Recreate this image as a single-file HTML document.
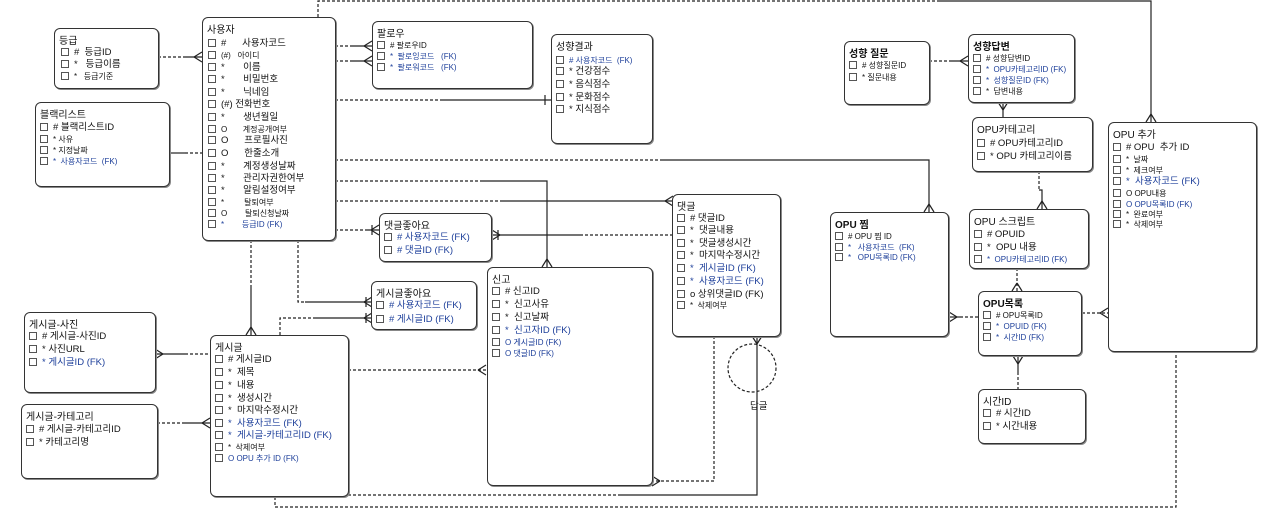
<!DOCTYPE html>
<html><head><meta charset="utf-8">
<style>
html,body{margin:0;padding:0;background:#fff;}
body{width:1280px;height:527px;position:relative;overflow:hidden;font-family:"Liberation Sans","Noto Sans CJK KR",sans-serif;color:#111;}
.b{position:absolute;border:1.3px solid #333;border-radius:6px;background:#fff;box-sizing:border-box;box-shadow:1px 1px 0 #888;}
.t{position:absolute;left:4px;top:3px;font-size:10px;white-space:nowrap;}
.r{position:absolute;font-size:9.5px;white-space:nowrap;line-height:11px;}
.r i{display:inline-block;width:6px;height:6px;border:1px solid #555;margin-right:5px;vertical-align:-1px;}
.f{color:#1d3f9a;}
.s{font-size:8px;}
svg{position:absolute;left:0;top:0;}
</style></head><body>
<svg width="1280" height="527" viewBox="0 0 1280 527" fill="none" stroke="#222" stroke-width="1.2">
<g stroke-dasharray="3,2">
<path d="M158,57H185"/>
<path d="M185,153H202"/>
<path d="M335,46H352M335,61H352"/>
<path d="M335,100H440"/>
<path d="M335,160H660"/>
<path d="M335,181H483"/>
<path d="M335,201H503"/>
<path d="M335,230H365"/>
<path d="M580,235H673"/>
<path d="M318,17V1H940"/>
<path d="M251,240V285"/>
<path d="M298,240V302H305"/>
<path d="M280,335V318H315"/>
<path d="M185,354H210"/>
<path d="M157,423H185"/>
<path d="M348,370H486"/>
<path d="M714,336V481H652"/>
<path d="M275,497V507H1176V352"/>
<path d="M348,495H620"/>
<path d="M929,61H950"/>
<path d="M1039,171V190"/>
<path d="M1017,268V291"/>
<path d="M960,317H978"/>
<path d="M1082,313H1108"/>
<path d="M1018,372V389"/>
<circle cx="752" cy="368" r="24"/>
</g>
<path d="M185,57H202"/>
<path d="M170,153H185"/>
<path d="M352,46H372M352,61H372"/>
<path d="M440,100H551M545,95V105"/>
<path d="M660,160H929V212"/>
<path d="M483,181H547V267"/>
<path d="M503,201H673"/>
<path d="M365,230H379M372,225V235"/>
<path d="M492,235H580M498,230V240"/>
<path d="M940,1H1151V122"/>
<path d="M251,285V335"/>
<path d="M305,302H372M366,297V307"/>
<path d="M315,318H372M366,313V323"/>
<path d="M155,354H185"/>
<path d="M185,423H210"/>
<path d="M620,495H757V336"/>
<path d="M950,61H968"/>
<path d="M1003,102V117"/>
<path d="M1039,190H1042V209"/>
<path d="M949,317H960"/>
<path d="M1018,356V372"/>
<path d="M194,57L202,52M194,57L202,62"/>
<path d="M364,46L372,41M364,46L372,51M364,61L372,56M364,61L372,66"/>
<path d="M371,230L379,225M371,230L379,235"/>
<path d="M500,235L492,230M500,235L492,240"/>
<path d="M665,201L673,196M665,201L673,206"/>
<path d="M547,259L542,267M547,259L552,267"/>
<path d="M929,204L924,212M929,204L934,212"/>
<path d="M1151,114L1146,122M1151,114L1156,122"/>
<path d="M251,327L246,335M251,327L256,335"/>
<path d="M364,302L372,297M364,302L372,307M364,318L372,313M364,318L372,323"/>
<path d="M163,354L155,349M163,354L155,359"/>
<path d="M202,423L210,418M202,423L210,428"/>
<path d="M478,370L486,365M478,370L486,375"/>
<path d="M660,481L652,476M660,481L652,486"/>
<path d="M757,344L752,336M757,344L762,336"/>
<path d="M960,61L968,56M960,61L968,66"/>
<path d="M1003,110L998,102M1003,110L1008,102"/>
<path d="M1042,201L1037,209M1042,201L1047,209"/>
<path d="M1017,283L1012,291M1017,283L1022,291"/>
<path d="M957,317L949,312M957,317L949,322"/>
<path d="M1100,313L1108,308M1100,313L1108,318"/>
<path d="M1018,364L1013,356M1018,364L1023,356"/>
</svg>
<div style="position:absolute;left:750px;top:398px;font-size:9.5px;">답글</div>

<div class="b" style="left:54px;top:28px;width:105px;height:61px;"><div class="t">등급</div>
<div class="r" style="left:6px;top:18px"><i></i># &nbsp;등급ID</div>
<div class="r" style="left:6px;top:30px"><i></i>* &nbsp;&nbsp;등급이름</div>
<div class="r s" style="left:6px;top:42px"><i></i>* &nbsp;&nbsp;등급기준</div></div>

<div class="b" style="left:35px;top:102px;width:135px;height:85px;"><div class="t">블랙리스트</div>
<div class="r" style="left:4px;top:19px"><i></i># 블랙리스트ID</div>
<div class="r s" style="left:4px;top:31px"><i></i>* 사유</div>
<div class="r s" style="left:4px;top:42px"><i></i>* 지정날짜</div>
<div class="r s f" style="left:4px;top:53px"><i></i>* &nbsp;사용자코드 &nbsp;(FK)</div></div>

<div class="b" style="left:202px;top:17px;width:134px;height:224px;"><div class="t">사용자</div>
<div class="r" style="left:5px;top:20px"><i></i>#&nbsp;&nbsp;&nbsp;&nbsp;&nbsp;&nbsp;사용자코드</div>
<div class="r s" style="left:5px;top:32px"><i></i>(#)&nbsp;&nbsp;&nbsp;아이디</div>
<div class="r" style="left:5px;top:44px"><i></i>*&nbsp;&nbsp;&nbsp;&nbsp;&nbsp;&nbsp;&nbsp;이름</div>
<div class="r" style="left:5px;top:56px"><i></i>*&nbsp;&nbsp;&nbsp;&nbsp;&nbsp;&nbsp;&nbsp;비밀번호</div>
<div class="r" style="left:5px;top:69px"><i></i>*&nbsp;&nbsp;&nbsp;&nbsp;&nbsp;&nbsp;&nbsp;닉네임</div>
<div class="r" style="left:5px;top:81px"><i></i>(#)&nbsp;전화번호</div>
<div class="r" style="left:5px;top:94px"><i></i>*&nbsp;&nbsp;&nbsp;&nbsp;&nbsp;&nbsp;&nbsp;생년월일</div>
<div class="r s" style="left:5px;top:106px"><i></i>O&nbsp;&nbsp;&nbsp;&nbsp;&nbsp;&nbsp;&nbsp;계정공개여부</div>
<div class="r" style="left:5px;top:117px"><i></i>O&nbsp;&nbsp;&nbsp;&nbsp;&nbsp;&nbsp;프로필사진</div>
<div class="r" style="left:5px;top:130px"><i></i>O&nbsp;&nbsp;&nbsp;&nbsp;&nbsp;&nbsp;한줄소개</div>
<div class="r" style="left:5px;top:143px"><i></i>*&nbsp;&nbsp;&nbsp;&nbsp;&nbsp;&nbsp;&nbsp;계정생성날짜</div>
<div class="r" style="left:5px;top:155px"><i></i>*&nbsp;&nbsp;&nbsp;&nbsp;&nbsp;&nbsp;&nbsp;관리자권한여부</div>
<div class="r" style="left:5px;top:167px"><i></i>*&nbsp;&nbsp;&nbsp;&nbsp;&nbsp;&nbsp;&nbsp;알림설정여부</div>
<div class="r s" style="left:5px;top:179px"><i></i>*&nbsp;&nbsp;&nbsp;&nbsp;&nbsp;&nbsp;&nbsp;&nbsp;&nbsp;탈퇴여부</div>
<div class="r s" style="left:5px;top:190px"><i></i>O&nbsp;&nbsp;&nbsp;&nbsp;&nbsp;&nbsp;&nbsp;&nbsp;탈퇴신청날짜</div>
<div class="r s f" style="left:5px;top:201px"><i></i>*&nbsp;&nbsp;&nbsp;&nbsp;&nbsp;&nbsp;&nbsp;&nbsp;등급ID (FK)</div></div>

<div class="b" style="left:372px;top:21px;width:161px;height:68px;"><div class="t">팔로우</div>
<div class="r s" style="left:4px;top:18px"><i></i># 팔로우ID</div>
<div class="r s f" style="left:4px;top:29px"><i></i>* &nbsp;팔로잉코드 &nbsp;&nbsp;(FK)</div>
<div class="r s f" style="left:4px;top:40px"><i></i>* &nbsp;팔로워코드 &nbsp;&nbsp;(FK)</div></div>

<div class="b" style="left:551px;top:34px;width:102px;height:110px;"><div class="t">성향결과</div>
<div class="r s f" style="left:4px;top:20px"><i></i># 사용자코드 &nbsp;(FK)</div>
<div class="r" style="left:4px;top:31px"><i></i>* 건강점수</div>
<div class="r" style="left:4px;top:44px"><i></i>* 음식점수</div>
<div class="r" style="left:4px;top:57px"><i></i>* 문화점수</div>
<div class="r" style="left:4px;top:69px"><i></i>* 지식점수</div></div>

<div class="b" style="left:844px;top:41px;width:86px;height:64px;"><div class="t" style="font-weight:bold">성향 질문</div>
<div class="r s" style="left:4px;top:18px"><i></i># 성향질문ID</div>
<div class="r s" style="left:4px;top:30px"><i></i>* 질문내용</div></div>

<div class="b" style="left:968px;top:34px;width:107px;height:69px;"><div class="t" style="font-weight:bold">성향답변</div>
<div class="r s" style="left:4px;top:18px"><i></i># 성향답변ID</div>
<div class="r s f" style="left:4px;top:29px"><i></i>* &nbsp;OPU카테고리ID (FK)</div>
<div class="r s f" style="left:4px;top:40px"><i></i>* &nbsp;성향질문ID (FK)</div>
<div class="r s" style="left:4px;top:51px"><i></i>* &nbsp;답변내용</div></div>

<div class="b" style="left:972px;top:117px;width:121px;height:55px;"><div class="t">OPU카테고리</div>
<div class="r" style="left:4px;top:20px"><i></i># OPU카테고리ID</div>
<div class="r" style="left:4px;top:33px"><i></i>* OPU 카테고리이름</div></div>

<div class="b" style="left:1108px;top:122px;width:149px;height:230px;"><div class="t">OPU 추가</div>
<div class="r" style="left:4px;top:19px"><i></i># OPU &nbsp;추가 ID</div>
<div class="r s" style="left:4px;top:31px"><i></i>* &nbsp;날짜</div>
<div class="r s" style="left:4px;top:42px"><i></i>* &nbsp;제크여부</div>
<div class="r f" style="left:4px;top:53px"><i></i>* &nbsp;사용자코드 (FK)</div>
<div class="r s" style="left:4px;top:65px"><i></i>O OPU내용</div>
<div class="r s f" style="left:4px;top:76px"><i></i>O OPU목록ID (FK)</div>
<div class="r s" style="left:4px;top:86px"><i></i>* &nbsp;완료여부</div>
<div class="r s" style="left:4px;top:96px"><i></i>* &nbsp;삭제여부</div></div>

<div class="b" style="left:830px;top:212px;width:119px;height:125px;"><div class="t" style="font-weight:bold">OPU 찜</div>
<div class="r s" style="left:4px;top:18px"><i></i># OPU 찜 ID</div>
<div class="r s f" style="left:4px;top:29px"><i></i>* &nbsp;&nbsp;사용자코드 &nbsp;(FK)</div>
<div class="r s f" style="left:4px;top:39px"><i></i>* &nbsp;&nbsp;OPU목록ID (FK)</div></div>

<div class="b" style="left:969px;top:209px;width:120px;height:60px;"><div class="t">OPU 스크립트</div>
<div class="r" style="left:4px;top:19px"><i></i># OPUID</div>
<div class="r" style="left:4px;top:32px"><i></i>* &nbsp;OPU 내용</div>
<div class="r s f" style="left:4px;top:44px"><i></i>* &nbsp;OPU카테고리ID (FK)</div></div>

<div class="b" style="left:978px;top:291px;width:104px;height:65px;"><div class="t" style="font-weight:bold">OPU목록</div>
<div class="r s" style="left:4px;top:18px"><i></i># OPU목록ID</div>
<div class="r s f" style="left:4px;top:29px"><i></i>* &nbsp;OPUID (FK)</div>
<div class="r s f" style="left:4px;top:40px"><i></i>* &nbsp;시간ID (FK)</div></div>

<div class="b" style="left:978px;top:389px;width:108px;height:55px;"><div class="t">시간ID</div>
<div class="r" style="left:4px;top:18px"><i></i># 시간ID</div>
<div class="r" style="left:4px;top:31px"><i></i>* 시간내용</div></div>

<div class="b" style="left:672px;top:194px;width:109px;height:143px;"><div class="t">댓글</div>
<div class="r" style="left:4px;top:18px"><i></i># 댓글ID</div>
<div class="r" style="left:4px;top:30px"><i></i>* &nbsp;댓글내용</div>
<div class="r" style="left:4px;top:43px"><i></i>* &nbsp;댓글생성시간</div>
<div class="r" style="left:4px;top:55px"><i></i>* &nbsp;마지막수정시간</div>
<div class="r f" style="left:4px;top:68px"><i></i>* &nbsp;게시글ID (FK)</div>
<div class="r f" style="left:4px;top:81px"><i></i>* &nbsp;사용자코드 (FK)</div>
<div class="r" style="left:4px;top:94px"><i></i>o 상위댓글ID (FK)</div>
<div class="r s" style="left:4px;top:105px"><i></i>* &nbsp;삭제여부</div></div>

<div class="b" style="left:379px;top:213px;width:113px;height:49px;"><div class="t">댓글좋아요</div>
<div class="r f" style="left:4px;top:18px"><i></i># 사용자코드 (FK)</div>
<div class="r f" style="left:4px;top:31px"><i></i># 댓글ID (FK)</div></div>

<div class="b" style="left:371px;top:281px;width:106px;height:49px;"><div class="t">게시글좋아요</div>
<div class="r f" style="left:4px;top:18px"><i></i># 사용자코드 (FK)</div>
<div class="r f" style="left:4px;top:32px"><i></i># 게시글ID (FK)</div></div>

<div class="b" style="left:487px;top:267px;width:166px;height:219px;"><div class="t">신고</div>
<div class="r" style="left:4px;top:18px"><i></i># 신고ID</div>
<div class="r" style="left:4px;top:31px"><i></i>* &nbsp;신고사유</div>
<div class="r" style="left:4px;top:44px"><i></i>* &nbsp;신고날짜</div>
<div class="r f" style="left:4px;top:57px"><i></i>* &nbsp;신고자ID (FK)</div>
<div class="r s f" style="left:4px;top:69px"><i></i>O 게시글ID (FK)</div>
<div class="r s f" style="left:4px;top:80px"><i></i>O 댓글ID (FK)</div></div>

<div class="b" style="left:24px;top:312px;width:132px;height:81px;"><div class="t">게시글-사진</div>
<div class="r" style="left:4px;top:18px"><i></i># 게시글-사진ID</div>
<div class="r" style="left:4px;top:31px"><i></i>* 사진URL</div>
<div class="r f" style="left:4px;top:44px"><i></i>* 게시글ID (FK)</div></div>

<div class="b" style="left:21px;top:404px;width:137px;height:75px;"><div class="t">게시글-카테고리</div>
<div class="r" style="left:4px;top:19px"><i></i># 게시글-카테고리ID</div>
<div class="r" style="left:4px;top:32px"><i></i>* 카테고리명</div></div>

<div class="b" style="left:210px;top:335px;width:139px;height:162px;"><div class="t">게시글</div>
<div class="r" style="left:4px;top:18px"><i></i># 게시글ID</div>
<div class="r" style="left:4px;top:31px"><i></i>* &nbsp;제목</div>
<div class="r" style="left:4px;top:44px"><i></i>* &nbsp;내용</div>
<div class="r" style="left:4px;top:57px"><i></i>* &nbsp;생성시간</div>
<div class="r" style="left:4px;top:69px"><i></i>* &nbsp;마지막수정시간</div>
<div class="r f" style="left:4px;top:82px"><i></i>* &nbsp;사용자코드 (FK)</div>
<div class="r f" style="left:4px;top:94px"><i></i>* &nbsp;게시글-카테고리ID (FK)</div>
<div class="r s" style="left:4px;top:106px"><i></i>* &nbsp;삭제여부</div>
<div class="r s f" style="left:4px;top:117px"><i></i>O OPU 추가 ID (FK)</div></div>
</body></html>
